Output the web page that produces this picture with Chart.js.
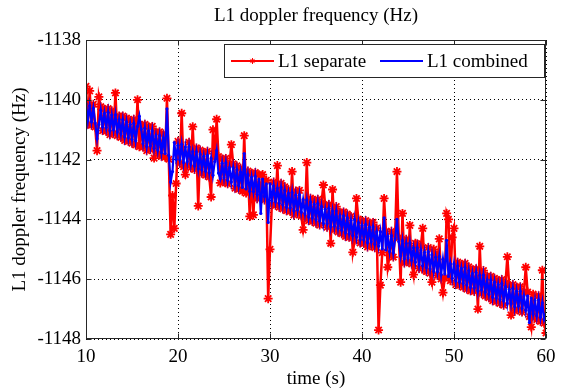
<!DOCTYPE html>
<html>
<head>
<meta charset="utf-8">
<script src="https://cdn.jsdelivr.net/npm/chart.js@4.4.1/dist/chart.umd.min.js"></script>
<style>
    html, body { margin: 0; padding: 0; background: #fff; }
    #contenedorGrafica { width: 563px; height: 389px; }
</style>
</head>
<body>
<div id="contenedorGrafica"><canvas id="graficaDoppler" width="563" height="389"></canvas></div>
<script>
//////////////////////////////////////////////////////////////////////////////////////
/// DATOS ////////////////////////////////////////////////////////////////////////////
//////////////////////////////////////////////////////////////////////////////////////
const tiempoInicio = 10;      // s, primera muestra
const pasoTiempo = 0.2;       // s entre muestras
const ticksX = [10, 20, 30, 40, 50, 60];
const ticksY = [-1148, -1146, -1144, -1142, -1140, -1138];
const nombresSeries = ["L1 separate", "L1 combined"];

// L1 separate (Hz), una fila por segundo (5 muestras)
const l1Separado = [
    -1139.55, -1140.82, -1139.70, -1140.85, -1140.15,
    -1140.91, -1141.70, -1139.90, -1140.23, -1141.03,
    -1140.32, -1141.05, -1140.29, -1141.17, -1140.37,
    -1141.12, -1139.77, -1141.20, -1140.54, -1141.26,
    -1140.54, -1141.36, -1140.61, -1141.39, -1140.69,
    -1141.45, -1140.65, -1141.51, -1140.00, -1141.57,
    -1140.85, -1141.58, -1140.82, -1141.70, -1140.90,
    -1141.66, -1140.89, -1141.95, -1141.08, -1141.80,
    -1141.07, -1141.89, -1141.14, -1141.92, -1139.95,
    -1141.99, -1144.50, -1143.20, -1144.30, -1142.80,
    -1141.39, -1142.12, -1140.45, -1142.24, -1142.50,
    -1142.19, -1141.42, -1142.27, -1140.90, -1142.33,
    -1141.61, -1143.55, -1141.68, -1142.46, -1141.76,
    -1142.52, -1141.72, -1142.58, -1143.25, -1141.00,
    -1141.93, -1140.65, -1141.90, -1142.78, -1141.98,
    -1142.73, -1141.96, -1142.81, -1142.15, -1141.50,
    -1142.14, -1142.96, -1142.21, -1142.99, -1142.29,
    -1143.06, -1141.20, -1143.12, -1142.38, -1143.90,
    -1142.46, -1143.85, -1142.43, -1143.31, -1142.51,
    -1143.27, -1142.50, -1143.35, -1142.69, -1146.65,
    -1145.00, -1143.50, -1142.75, -1143.53, -1142.20,
    -1143.59, -1142.79, -1143.65, -1142.91, -1143.71,
    -1143.00, -1143.73, -1142.40, -1143.85, -1143.05,
    -1143.80, -1143.03, -1143.88, -1144.35, -1143.94,
    -1142.10, -1144.04, -1143.29, -1144.07, -1143.37,
    -1144.13, -1143.33, -1144.19, -1143.45, -1142.85,
    -1143.53, -1144.26, -1143.50, -1144.80, -1143.00,
    -1144.34, -1143.57, -1144.42, -1143.76, -1144.48,
    -1143.75, -1144.57, -1143.82, -1144.60, -1143.90,
    -1145.10, -1144.70, -1143.30, -1143.99, -1144.79,
    -1144.07, -1144.80, -1144.04, -1144.92, -1144.12,
    -1144.87, -1144.10, -1144.95, -1144.29, -1147.70,
    -1146.20, -1145.11, -1143.30, -1144.40, -1145.60,
    -1145.20, -1144.40, -1145.26, -1144.52, -1142.40,
    -1144.61, -1146.10, -1143.80, -1145.46, -1144.66,
    -1145.41, -1144.20, -1145.49, -1145.85, -1144.80,
    -1144.82, -1145.64, -1144.89, -1144.30, -1145.70,
    -1145.74, -1144.94, -1145.80, -1146.10, -1145.00,
    -1145.14, -1145.87, -1144.65, -1145.99, -1146.45,
    -1145.95, -1143.80, -1144.00, -1146.05, -1144.60,
    -1144.30, -1146.18, -1145.43, -1146.21, -1145.51,
    -1146.27, -1145.47, -1146.33, -1145.59, -1146.39,
    -1145.68, -1146.41, -1145.65, -1147.00, -1144.90,
    -1146.48, -1145.71, -1146.56, -1145.90, -1146.62,
    -1145.90, -1146.72, -1145.97, -1146.75, -1146.05,
    -1146.81, -1146.01, -1146.87, -1146.13, -1145.25,
    -1146.21, -1147.20, -1146.18, -1147.06, -1146.26,
    -1147.02, -1146.25, -1147.10, -1146.44, -1145.60,
    -1146.43, -1147.25, -1147.60, -1146.50, -1147.28,
    -1147.35, -1146.55, -1147.41, -1145.70, -1147.47,
    -1147.80
];

// L1 combined (Hz)
const l1Combinado = [
    -1140.13, -1140.70, -1140.20, -1140.73, -1140.28,
    -1140.78, -1141.30, -1140.83, -1140.35, -1140.91,
    -1140.45, -1140.93, -1140.42, -1141.03, -1140.51,
    -1141.00, -1140.50, -1141.08, -1140.66, -1141.14,
    -1140.67, -1141.24, -1140.74, -1141.27, -1140.82,
    -1141.32, -1140.79, -1141.37, -1140.89, -1140.55,
    -1140.98, -1141.46, -1140.95, -1141.56, -1141.04,
    -1141.54, -1141.04, -1141.62, -1141.20, -1141.68,
    -1141.20, -1141.77, -1141.27, -1141.80, -1140.30,
    -1141.86, -1142.75, -1142.40, -1141.43, -1141.99,
    -1141.52, -1142.00, -1141.49, -1142.10, -1141.58,
    -1142.07, -1141.57, -1142.15, -1141.73, -1142.21,
    -1141.74, -1142.31, -1141.81, -1142.34, -1141.89,
    -1142.39, -1141.86, -1142.44, -1141.96, -1142.52,
    -1142.06, -1141.70, -1142.45, -1142.64, -1142.12,
    -1142.61, -1142.11, -1142.69, -1142.27, -1142.75,
    -1142.27, -1142.84, -1142.34, -1142.87, -1142.42,
    -1142.93, -1141.80, -1142.98, -1142.50, -1143.06,
    -1142.59, -1143.07, -1142.56, -1143.17, -1142.65,
    -1143.80, -1142.65, -1143.23, -1142.81, -1144.10,
    -1142.81, -1143.38, -1142.88, -1143.41, -1142.96,
    -1143.46, -1142.93, -1143.51, -1143.03, -1143.59,
    -1143.13, -1143.61, -1143.10, -1143.71, -1143.19,
    -1143.68, -1143.18, -1143.76, -1143.34, -1143.82,
    -1143.35, -1143.92, -1143.42, -1143.95, -1143.50,
    -1144.00, -1143.47, -1144.05, -1143.57, -1144.13,
    -1143.66, -1144.14, -1143.63, -1144.24, -1143.72,
    -1144.22, -1143.72, -1144.30, -1143.88, -1144.36,
    -1143.88, -1144.45, -1143.95, -1144.48, -1144.03,
    -1144.54, -1144.01, -1144.59, -1144.11, -1144.67,
    -1144.20, -1144.68, -1144.17, -1144.78, -1144.26,
    -1144.75, -1144.25, -1144.83, -1144.41, -1144.89,
    -1144.42, -1144.99, -1143.95, -1145.02, -1144.57,
    -1145.07, -1144.54, -1145.12, -1144.64, -1144.00,
    -1144.74, -1145.22, -1144.71, -1145.32, -1144.80,
    -1145.29, -1144.79, -1145.37, -1144.95, -1145.43,
    -1144.95, -1145.52, -1145.02, -1145.55, -1145.10,
    -1145.61, -1145.08, -1145.66, -1145.18, -1145.74,
    -1145.27, -1145.75, -1145.24, -1145.85, -1145.33,
    -1145.83, -1144.70, -1145.91, -1145.49, -1145.97,
    -1145.49, -1146.06, -1145.56, -1146.09, -1145.64,
    -1146.14, -1145.61, -1146.19, -1145.71, -1146.27,
    -1145.81, -1146.29, -1145.78, -1146.39, -1145.87,
    -1146.36, -1145.86, -1146.44, -1146.02, -1146.50,
    -1146.03, -1146.60, -1146.10, -1146.63, -1146.18,
    -1146.68, -1146.15, -1146.73, -1146.25, -1146.81,
    -1146.34, -1146.82, -1146.31, -1146.92, -1146.40,
    -1146.90, -1146.40, -1146.98, -1146.56, -1147.04,
    -1146.56, -1147.45, -1146.63, -1147.16, -1146.71,
    -1147.22, -1146.69, -1147.27, -1146.79, -1147.35,
    -1147.15
];

//////////////////////////////////////////////////////////////////////////////////////
/// PLUGIN: MARCO, TICKS HACIA DENTRO, TITULO Y LEYENDA ESTILO MATLAB ////////////////
//////////////////////////////////////////////////////////////////////////////////////
const fuente = '"Liberation Serif", "Times New Roman", serif';
const colores = ["#ff0000", "#0000ff"];

const marcoMatlab = {
    id: "marcoMatlab",
    afterDraw(chart) {
        const { ctx, chartArea: a, scales } = chart;
        const L = Math.round(a.left) + 0.5, R = Math.round(a.right) - 0.5;
        const T = Math.round(a.top) + 0.5, B = Math.round(a.bottom) - 0.5;
        ctx.save();

        // caja y marcas
        ctx.strokeStyle = "#262626";
        ctx.lineWidth = 1;
        ctx.setLineDash([]);
        ctx.strokeRect(L, T, R - L, B - T);
        ctx.beginPath();
        ticksX.forEach(v => {
            const px = Math.round(scales.x.getPixelForValue(v)) + 0.5;
            ctx.moveTo(px, B); ctx.lineTo(px, B - 5);
            ctx.moveTo(px, T); ctx.lineTo(px, T + 5);
        });
        ticksY.forEach(v => {
            const py = Math.round(scales.y.getPixelForValue(v)) + 0.5;
            ctx.moveTo(L, py); ctx.lineTo(L + 5, py);
            ctx.moveTo(R, py); ctx.lineTo(R - 5, py);
        });
        ctx.stroke();

        // titulo centrado sobre los ejes
        ctx.fillStyle = "#000";
        ctx.font = `19px ${fuente}`;
        ctx.textAlign = "center";
        ctx.textBaseline = "middle";
        ctx.fillText("L1 doppler frequency (Hz)", (a.left + a.right) / 2, 16);

        // leyenda dentro del area
        const cajaDer = a.right - 2, cajaIzq = cajaDer - 320;
        const cajaTop = a.top + 4.5, cajaBot = cajaTop + 33;
        const yc = (cajaTop + cajaBot) / 2;
        ctx.fillStyle = "#fff";
        ctx.fillRect(cajaIzq, cajaTop, cajaDer - cajaIzq, cajaBot - cajaTop);
        ctx.strokeStyle = "#262626";
        ctx.strokeRect(Math.round(cajaIzq) + 0.5, cajaTop, Math.round(cajaDer - cajaIzq), cajaBot - cajaTop);

        const inicios = [cajaIzq + 7, cajaIzq + 156];
        chart.data.datasets.forEach((ds, i) => {
            const x0 = inicios[i];
            ctx.strokeStyle = ds.borderColor;
            ctx.lineWidth = 2;
            ctx.beginPath();
            ctx.moveTo(x0, yc); ctx.lineTo(x0 + 43, yc);
            ctx.stroke();
            if (i === 0) {
                ctx.lineWidth = 1;
                Chart.helpers.drawPoint(ctx, { pointStyle: "star", radius: 3, rotation: 0, borderWidth: 1 }, x0 + 21.5, yc);
            }
            ctx.fillStyle = "#000";
            ctx.textAlign = "left";
            ctx.font = `19px ${fuente}`;
            ctx.fillText(ds.label, x0 + 47, yc + 1);
        });
        ctx.restore();
    }
};

//////////////////////////////////////////////////////////////////////////////////////
/// GRAFICA //////////////////////////////////////////////////////////////////////////
//////////////////////////////////////////////////////////////////////////////////////
function ArmarPuntos(valores) {
    return valores.map((v, i) => ({ x: tiempoInicio + i * pasoTiempo, y: v }));
}

function MostrarGrafica() {
    const ctx = document.getElementById("graficaDoppler").getContext("2d");

    const ejeComun = {
        grid: { color: "#000", lineWidth: 1, drawTicks: false, tickLength: 0 },
        border: { display: false, dash: [1, 3] },
    };

    new Chart(ctx, {
        type: "line",
        data: {
            datasets: [
                {
                    label: nombresSeries[0],
                    data: ArmarPuntos(l1Separado),
                    borderColor: colores[0],
                    backgroundColor: colores[0],
                    borderWidth: 2.5,
                    pointStyle: "star",
                    pointRadius: 4.5,
                    pointBorderWidth: 1.8,
                    pointBorderColor: colores[0],
                    tension: 0,
                    order: 2
                },
                {
                    label: nombresSeries[1],
                    data: ArmarPuntos(l1Combinado),
                    borderColor: colores[1],
                    backgroundColor: colores[1],
                    borderWidth: 2.2,
                    pointStyle: "circle",
                    pointRadius: 1.6,
                    pointBorderWidth: 0,
                    pointBackgroundColor: colores[1],
                    tension: 0,
                    order: 1
                }
            ]
        },
        options: {
            responsive: false,
            animation: false,
            layout: { padding: { top: 40, right: 17, left: 0, bottom: 0 } },
            plugins: {
                legend: { display: false },
                title: { display: false },
                tooltip: { enabled: false }
            },
            scales: {
                x: {
                    ...ejeComun,
                    type: "linear",
                    min: 10,
                    max: 60,
                    afterBuildTicks: s => { s.ticks = ticksX.map(v => ({ value: v })); },
                    afterFit: s => { s.height = 50; },
                    ticks: {
                        color: "#000",
                        font: { family: fuente, size: 19 },
                        padding: 7,
                        maxRotation: 0,
                        callback: v => String(v)
                    },
                    title: {
                        display: true,
                        text: "time (s)",
                        color: "#000",
                        font: { family: fuente, size: 19, lineHeight: 1 },
                        padding: { top: 0, bottom: 0 }
                    }
                },
                y: {
                    ...ejeComun,
                    type: "linear",
                    min: -1148,
                    max: -1138,
                    afterBuildTicks: s => { s.ticks = ticksY.map(v => ({ value: v })); },
                    afterFit: s => { s.width = 86; },
                    ticks: {
                        color: "#000",
                        font: { family: fuente, size: 19 },
                        padding: 5,
                        callback: v => String(v)
                    },
                    title: {
                        display: true,
                        text: "L1 doppler frequency (Hz)",
                        color: "#000",
                        font: { family: fuente, size: 19, lineHeight: 1.2 },
                        padding: { top: 9, bottom: 0 }
                    }
                }
            }
        },
        plugins: [marcoMatlab]
    });
}

//////////////////////////////////////////////////////////////////////////////////////
/// INICIALIZAR //////////////////////////////////////////////////////////////////////
//////////////////////////////////////////////////////////////////////////////////////
MostrarGrafica();
</script>
</body>
</html>
